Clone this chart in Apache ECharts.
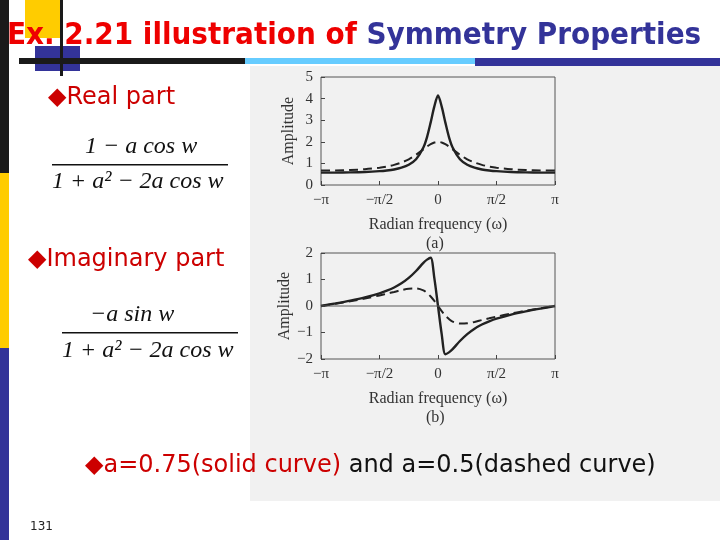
<!DOCTYPE html>
<html><head><meta charset="utf-8">
<script src="https://cdn.jsdelivr.net/npm/echarts@6/dist/echarts.min.js"></script>
<style>html,body{margin:0;padding:0;background:#fff}#c{width:720px;height:540px}</style>
</head><body><div id="c"></div>
<script>
// x in units of pi
const freq = [-1,-0.875,-0.75,-0.625,-0.5,-0.4375,-0.375,-0.3125,-0.25,-0.1875,-0.125,-0.09375,-0.0625,-0.03125,0,
  0.03125,0.0625,0.09375,0.125,0.1875,0.25,0.3125,0.375,0.4375,0.5,0.625,0.75,0.875,1]
const real75 = [0.571,0.574,0.583,0.602,0.64,0.672,0.72,0.80,0.936,1.19,1.74,2.22,2.90,3.64,4.15,
  3.64,2.90,2.22,1.74,1.19,0.936,0.80,0.72,0.672,0.64,0.602,0.583,0.574,0.571]
const real50 = [0.667,0.672,0.692,0.73,0.8,0.855,0.933,1.04,1.19,1.40,1.65,1.78,1.894,1.97,2.0,
  1.97,1.894,1.78,1.65,1.40,1.19,1.04,0.933,0.855,0.8,0.73,0.692,0.672,0.667]
const imag75 = [0,0.097,0.202,0.324,0.48,0.58,0.70,0.856,1.06,1.32,1.63,1.75,1.82,1.05,0,
  -1.05,-1.82,-1.75,-1.63,-1.32,-1.06,-0.856,-0.70,-0.58,-0.48,-0.324,-0.202,-0.097,0]
const imag50 = [0,0.088,0.181,0.283,0.4,0.465,0.53,0.60,0.65,0.66,0.59,0.49,0.36,0.19,0,
  -0.19,-0.36,-0.49,-0.59,-0.66,-0.65,-0.60,-0.53,-0.465,-0.4,-0.283,-0.181,-0.088,0]
const xLabels = {'-1':'−π','-0.5':'−π/2','0':'0','0.5':'π/2','1':'π'}

const pair = (ys) => freq.map((x, i) => [x, ys[i]])
const serif = 'Liberation Serif'
const axisLbl = {fontFamily: serif, fontSize: 15, color: '#333'}

function xAxis(idx) {
  return {gridIndex: idx, type: 'value', min: -1, max: 1, interval: 0.5,
    axisLine: {show: false, onZero: false}, splitLine: {show: false},
    axisTick: {inside: true, length: 4, lineStyle: {color: '#444'}},
    axisLabel: {...axisLbl, formatter: v => xLabels[String(v)]},
    name: 'Radian frequency (ω)', nameLocation: 'middle', nameGap: 32,
    nameTextStyle: {fontFamily: serif, fontSize: 16, color: '#333'}}
}
function yAxis(idx, min, max) {
  return {gridIndex: idx, type: 'value', min: min, max: max, interval: 1,
    axisLine: {show: false, onZero: false}, splitLine: {show: false},
    axisTick: {inside: true, length: 4, lineStyle: {color: '#444'}},
    axisLabel: {...axisLbl, formatter: v => String(v).replace('-', '−')},
    name: 'Amplitude', nameLocation: 'middle', nameGap: 24, nameRotate: 90,
    nameTextStyle: {fontFamily: serif, fontSize: 16, color: '#333'}}
}
function line(idx, ys, dashed) {
  return {type: 'line', xAxisIndex: idx, yAxisIndex: idx, data: pair(ys), smooth: 0.3,
    showSymbol: false, lineStyle: {color: '#222', width: dashed ? 2 : 2.4, type: dashed ? [9, 5] : 'solid'}}
}

const chart = echarts.init(document.getElementById('c'))
chart.setOption({
  animation: false,
  grid: [
    {left: 321, top: 77, width: 234, height: 108, show: true, borderColor: '#555', borderWidth: 1, backgroundColor: 'transparent'},
    {left: 321, top: 253, width: 234, height: 106, show: true, borderColor: '#555', borderWidth: 1, backgroundColor: 'transparent'}
  ],
  xAxis: [xAxis(0), xAxis(1)],
  yAxis: [yAxis(0, 0, 5), yAxis(1, -2, 2)],
  series: [
    line(0, real75, false), line(0, real50, true),
    line(1, imag75, false), line(1, imag50, true),
    {type: 'line', xAxisIndex: 1, yAxisIndex: 1, data: [[-1, 0], [1, 0]], showSymbol: false,
      lineStyle: {color: '#555', width: 1}}
  ],
  graphic: [
    {type: 'rect', z: -10, shape: {x: 250, y: 66, width: 470, height: 435}, style: {fill: '#f1f1f1'}},
    {type: 'rect', shape: {x: 0, y: 0, width: 9, height: 173}, style: {fill: '#1a1a1a'}},
    {type: 'rect', shape: {x: 0, y: 173, width: 9, height: 175}, style: {fill: '#ffcc00'}},
    {type: 'rect', shape: {x: 0, y: 348, width: 9, height: 192}, style: {fill: '#333399'}},
    {type: 'rect', shape: {x: 25, y: 0, width: 36, height: 38}, style: {fill: '#ffcc00'}},
    {type: 'rect', shape: {x: 35, y: 46, width: 45, height: 25}, style: {fill: '#333399'}},
    {type: 'rect', shape: {x: 19, y: 58, width: 226, height: 6}, style: {fill: '#1a1a1a'}},
    {type: 'rect', shape: {x: 245, y: 58, width: 230, height: 6}, style: {fill: '#66ccff'}},
    {type: 'rect', shape: {x: 475, y: 58, width: 245, height: 8}, style: {fill: '#333399'}},
    {type: 'rect', shape: {x: 60, y: 0, width: 3, height: 76}, style: {fill: '#1a1a1a'}},
    {type: 'text', x: 7, y: 20, style: {
      text: '{r|Ex. 2.21 illustration of }{b|Symmetry Properties}',
      rich: {r: {fill: '#ee0000', font: 'bold 31px "DejaVu Sans Condensed", sans-serif'},
             b: {fill: '#333399', font: 'bold 31px "DejaVu Sans Condensed", sans-serif'}}}},
    {type: 'text', x: 48, y: 86, style: {text: '◆Real part', fill: '#cc0000', font: '24px "DejaVu Sans", sans-serif'}},
    {type: 'text', x: 28, y: 248, style: {text: '◆Imaginary part', fill: '#cc0000', font: '24px "DejaVu Sans", sans-serif'}},
    {type: 'text', x: 85, y: 135, style: {text: '1 − a cos w', fill: '#111', font: 'italic 24px "Liberation Serif"'}},
    {type: 'rect', shape: {x: 52, y: 164, width: 176, height: 1.5}, style: {fill: '#111'}},
    {type: 'text', x: 52, y: 170, style: {text: '1 + a² − 2a cos w', fill: '#111', font: 'italic 24px "Liberation Serif"'}},
    {type: 'text', x: 90, y: 303, style: {text: '−a sin w', fill: '#111', font: 'italic 24px "Liberation Serif"'}},
    {type: 'rect', shape: {x: 62, y: 332, width: 176, height: 1.5}, style: {fill: '#111'}},
    {type: 'text', x: 62, y: 339, style: {text: '1 + a² − 2a cos w', fill: '#111', font: 'italic 24px "Liberation Serif"'}},
    {type: 'text', x: 426, y: 236, style: {text: '(a)', fill: '#333', font: '16px "Liberation Serif"'}},
    {type: 'text', x: 426, y: 410, style: {text: '(b)', fill: '#333', font: '16px "Liberation Serif"'}},
    {type: 'text', x: 85, y: 454, style: {
      text: '{r|◆a=0.75(solid curve) }{k|and a=0.5(dashed curve)}',
      rich: {r: {fill: '#cc0000', font: '24px "DejaVu Sans", sans-serif'},
             k: {fill: '#111', font: '24px "DejaVu Sans", sans-serif'}}}},
    {type: 'text', x: 30, y: 521, style: {text: '131', fill: '#222', font: '12px "DejaVu Sans", sans-serif'}}
  ]
})
</script></body></html>
